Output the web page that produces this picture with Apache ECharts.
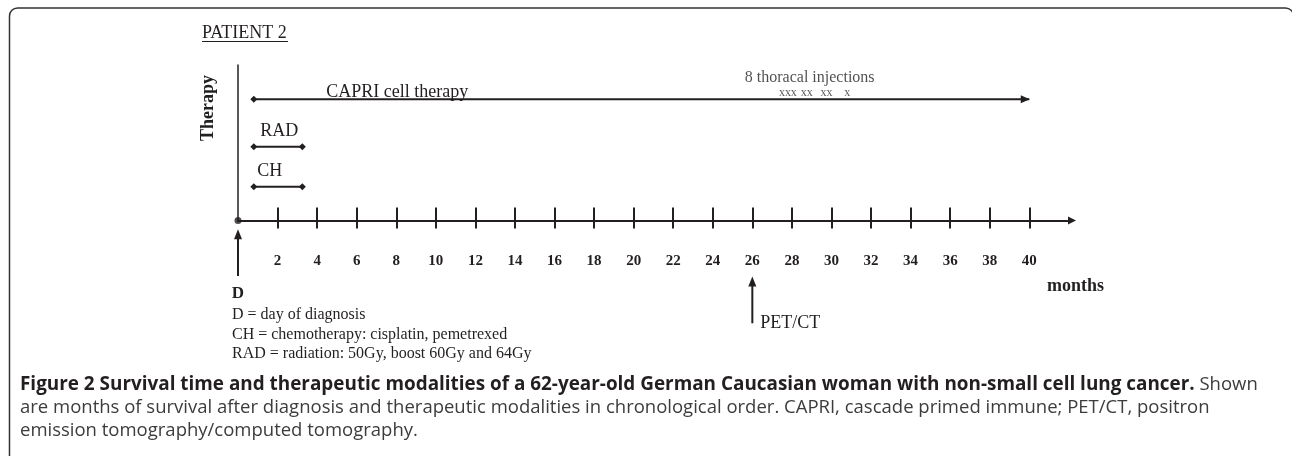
<!DOCTYPE html>
<html>
<head>
<meta charset="utf-8">
<script src="https://cdn.jsdelivr.net/npm/echarts@6/dist/echarts.min.js"></script>
<style>
  html, body { margin: 0; padding: 0; background: #fff; }
  #chart { width: 1292px; height: 456px; }
</style>
</head>
<body>
<div id="chart"></div>
<script>
// month ticks on the time axis
const monthTicks = [2, 4, 6, 8, 10, 12, 14, 16, 18, 20, 22, 24, 26, 28, 30, 32, 34, 36, 38, 40];

// therapies (start / end in months after diagnosis)
const therapyNames = ["CAPRI cell therapy", "RAD", "CH"];
const therapyStart = [0.8, 0.8, 0.8];
const therapyEnd = [40, 3.25, 3.25];

// thoracal injections (months)
const injectionMonths = [27.5, 27.8, 28.1, 28.6, 28.9, 29.6, 29.9, 30.8];

// events below the time axis
const eventNames = ["D", "PET/CT"];
const eventMonths = [0, 26];

const legendLines = [
	"D = day of diagnosis",
	"CH = chemotherapy: cisplatin, pemetrexed",
	"RAD = radiation: 50Gy, boost 60Gy and 64Gy",
];

const captionBold = "Figure 2 Survival time and therapeutic modalities of a 62-year-old German Caucasian woman with non-small cell lung cancer.";
const captionRest = [
	" Shown",
	"are months of survival after diagnosis and therapeutic modalities in chronological order. CAPRI, cascade primed immune; PET/CT, positron",
	"emission tomography/computed tomography.",
];

const INK = "#231f20";
const SERIF = "'Liberation Serif', 'Times New Roman', serif";
const X_MAX = 42.16;
// vertical level of each therapy row
const rowLevel = [3.12, 1.9, 0.87];
const labelOffset = [[69, -7], [3, -15], [0, -15]];

const chart = echarts.init(document.getElementById("chart"), null, { renderer: "canvas" });

const therapySeries = therapyNames.map((name, i) => ({
	name: name,
	type: "line",
	xAxisIndex: 0,
	yAxisIndex: 0,
	symbolSize: 7,
	lineStyle: { color: INK, width: 2 },
	itemStyle: { color: INK },
	animation: false,
	data: [
		{
			value: [therapyStart[i], rowLevel[i]],
			symbol: "diamond",
			label: {
				show: true,
				formatter: name,
				position: "right",
				distance: 0,
				offset: labelOffset[i],
				color: INK,
				fontFamily: SERIF,
				fontSize: 18,
			},
		},
		{
			value: [therapyEnd[i], rowLevel[i]],
			symbol: therapyEnd[i] > 10 ? "triangle" : "diamond",
			symbolSize: therapyEnd[i] > 10 ? [8, 9] : 7,
			symbolRotate: therapyEnd[i] > 10 ? -90 : 0,
			symbolOffset: therapyEnd[i] > 10 ? [-4, 0] : [0, 0],
		},
	],
}));

const injectionMean = injectionMonths.reduce((a, b) => a + b, 0) / injectionMonths.length;

const eventSeries = eventNames.map((name, i) => ({
	name: name,
	type: "line",
	xAxisIndex: 2,
	yAxisIndex: 1,
	lineStyle: { color: INK, width: 2 },
	itemStyle: { color: INK },
	animation: false,
	data: [
		{ value: [eventMonths[i], 0.12 + 0.43 * i], symbol: "triangle", symbolSize: [8, 10] },
		{
			value: [eventMonths[i], 0.5 + 0.43 * i],
			symbol: "circle",
			symbolSize: 0,
			label: i === 0
				? { show: true, formatter: name, position: "bottom", distance: 9, color: INK, fontFamily: SERIF, fontSize: 17, fontWeight: "bold" }
				: { show: true, formatter: name, position: "right", distance: 8, color: INK, fontFamily: SERIF, fontSize: 18 },
		},
	],
}));

const option = {
	backgroundColor: "#fff",
	animation: false,
	grid: [
		{ left: 238, top: 65, width: 834, height: 155.5 },
		{ left: 238, top: 221, width: 834, height: 110 },
	],
	xAxis: [
		{
			type: "value",
			gridIndex: 0,
			min: 0,
			max: X_MAX,
			splitLine: { show: false },
			axisLine: {
				show: true,
				onZero: false,
				symbol: ["none", "triangle"],
				symbolSize: [8, 8],
				lineStyle: { color: INK, width: 2 },
			},
			axisTick: {
				show: true,
				inside: true,
				length: 13,
				customValues: monthTicks,
				lineStyle: { color: INK, width: 2 },
			},
			axisLabel: {
				show: true,
				customValues: monthTicks,
				margin: 33,
				color: INK,
				fontFamily: SERIF,
				fontSize: 15,
				fontWeight: "bold",
			},
		},
		{
			type: "value",
			gridIndex: 0,
			position: "bottom",
			min: 0,
			max: X_MAX,
			splitLine: { show: false },
			axisLine: { show: false, onZero: false },
			axisTick: {
				show: true,
				inside: false,
				length: 8,
				customValues: monthTicks,
				lineStyle: { color: INK, width: 2 },
			},
			axisLabel: { show: false },
		},
		{ type: "value", gridIndex: 1, min: 0, max: X_MAX, show: false },
	],
	yAxis: [
		{
			type: "value",
			gridIndex: 0,
			min: 0,
			max: 4,
			splitLine: { show: false },
			axisLine: { show: true, lineStyle: { color: INK, width: 1.5 } },
			axisTick: { show: false },
			axisLabel: { show: false },
		},
		{ type: "value", gridIndex: 1, min: 0, max: 1, inverse: true, show: false },
	],
	series: [
		...therapySeries,
		{
			name: "injections",
			type: "scatter",
			xAxisIndex: 0,
			yAxisIndex: 0,
			symbolSize: 0,
			animation: false,
			label: {
				show: true,
				formatter: "x",
				position: "inside",
				offset: [0, -6],
				color: "#333",
				fontFamily: SERIF,
				fontSize: 12,
			},
			data: injectionMonths.map((m) => [m, rowLevel[0]]),
		},
		{
			name: "injection count",
			type: "scatter",
			xAxisIndex: 0,
			yAxisIndex: 0,
			symbolSize: 0,
			animation: false,
			label: {
				show: true,
				formatter: injectionMonths.length + " thoracal injections",
				position: "inside",
				offset: [0, -21],
				color: INK,
				fontFamily: SERIF,
				fontSize: 16,
			},
			data: [[injectionMean, rowLevel[0]]],
		},
		{
			name: "origin",
			type: "scatter",
			xAxisIndex: 0,
			yAxisIndex: 0,
			symbol: "circle",
			symbolSize: 7,
			clip: false,
			z: 5,
			itemStyle: { color: INK },
			animation: false,
			data: [[0, 0]],
		},
		...eventSeries,
	],
	graphic: [
		{
			type: "rect",
			shape: { x: 9.5, y: 8, width: 1284, height: 470, r: 8 },
			style: { fill: "none", stroke: "#333", lineWidth: 1.5 },
			silent: true,
		},
		{
			type: "text",
			left: 202,
			top: 24,
			style: { text: "PATIENT 2", font: "18px " + SERIF, fill: INK },
		},
		{
			type: "line",
			shape: { x1: 202, y1: 41.5, x2: 288, y2: 41.5 },
			style: { stroke: INK, lineWidth: 1 },
		},
		{
			type: "text",
			x: 208,
			y: 108,
			rotation: Math.PI / 2,
			style: {
				text: "Therapy",
				font: "bold 18px " + SERIF,
				fill: INK,
				align: "center",
				verticalAlign: "middle",
			},
		},
		{
			type: "text",
			left: 1047,
			top: 277,
			style: { text: "months", font: "bold 18px " + SERIF, fill: INK },
		},
		{
			type: "text",
			left: 232,
			top: 305,
			style: {
				text: legendLines.join("\n"),
				font: "16px " + SERIF,
				lineHeight: 19.7,
				fill: INK,
			},
		},
		{
			type: "text",
			left: 20,
			top: 375,
			style: {
				text: "{b|" + captionBold + "}{r|" + captionRest[0] + "}\n{r|" + captionRest[1] + "}\n{r|" + captionRest[2] + "}",
				rich: {
					b: { fontFamily: "Open Sans", fontSize: 18.9, fontWeight: "bold", fill: "#231f20", lineHeight: 23 },
					r: { fontFamily: "Open Sans", fontSize: 18.5, fill: "#3c3c3c", lineHeight: 23 },
				},
			},
		},
	],
};

chart.setOption(option);
</script>
</body>
</html>
